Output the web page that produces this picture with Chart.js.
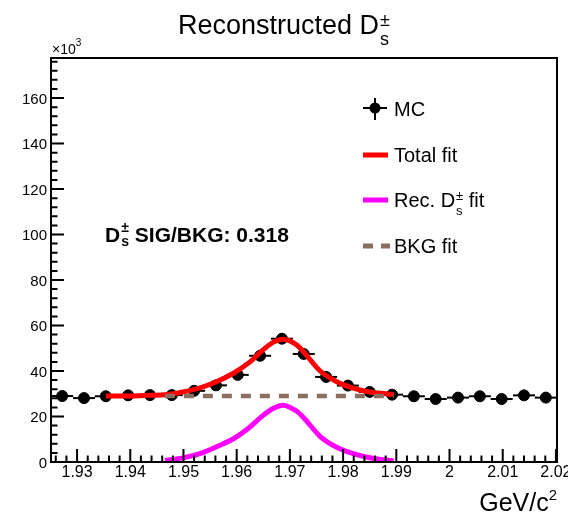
<!DOCTYPE html>
<html>
<head>
<meta charset="utf-8">
<script src="https://cdn.jsdelivr.net/npm/chart.js@4.4.1/dist/chart.umd.min.js"></script>
<style>
    html, body { margin: 0; padding: 0; background: #ffffff; }
    canvas { display: block; }
</style>
</head>
<body>
<canvas id="chart" width="568" height="519"></canvas>
<script>
// invariant mass, GeV/c^2 ; counts in units of 10^3
var massBins = [1.9272, 1.9313, 1.9354, 1.9396, 1.9437, 1.9478, 1.9520, 1.9561,
    1.9602, 1.9644, 1.9685, 1.9726, 1.9768, 1.9809, 1.9850, 1.9892, 1.9933,
    1.9974, 2.0016, 2.0057, 2.0098, 2.0140, 2.0181];
var mcCounts = [29.0, 28.1, 28.9, 29.3, 29.4, 29.4, 31.3, 33.7, 38.3, 46.7, 54.2,
    47.5, 37.4, 33.6, 30.8, 29.6, 28.9, 27.7, 28.3, 28.9, 27.7, 29.3, 28.3];
var binHalfWidth = 0.00207;

var totalFitMass = [1.9354, 1.9399, 1.9439, 1.9478, 1.9499, 1.9531, 1.9563, 1.9593,
    1.9625, 1.9649, 1.9669, 1.9687, 1.9713, 1.9725, 1.9757, 1.9788, 1.9819, 1.9850, 1.9895];
var totalFitValues = [29.0, 29.0, 29.3, 29.9, 30.8, 32.6, 35.4, 38.9,
    44.0, 49.2, 52.7, 54.0, 51.4, 48.6, 40.0, 35.3, 32.5, 30.8, 29.7];

var signalFitMass = [1.9465, 1.9499, 1.9531, 1.9563, 1.9593, 1.9625, 1.9649, 1.9669,
    1.9687, 1.9713, 1.9725, 1.9757, 1.9788, 1.9819, 1.9850, 1.9895];
var signalFitValues = [0.7, 1.8, 3.7, 6.8, 10.1, 15.4, 20.4, 23.6,
    25.0, 22.3, 19.7, 11.2, 6.5, 3.7, 1.9, 0.4];

var bkgFitMass = [1.9465, 1.9895];
var bkgFitValues = [29.0, 29.0];

var xTicks = [1.93, 1.94, 1.95, 1.96, 1.97, 1.98, 1.99, 2.00, 2.01, 2.02];
var yTicks = [0, 20, 40, 60, 80, 100, 120, 140, 160];
var sigOverBkg = "0.318";

var FONT = "'Liberation Sans', Arial, Helvetica, sans-serif";

function points(xs, ys) {
    return xs.map(function (x, i) { return { x: x, y: ys[i] }; });
}

// D with stacked ± (sup) and s (sub), returns x after it
function drawDs(ctx, x, y, size, weight, supOff, subOff) {
    ctx.textAlign = 'left';
    ctx.font = weight + ' ' + size + 'px ' + FONT;
    ctx.fillText('D', x, y);
    x += ctx.measureText('D').width + 1;
    var small = Math.round(size * 0.65);
    ctx.font = weight + ' ' + small + 'px ' + FONT;
    ctx.fillText('\u00b1', x, y + size * supOff);
    ctx.fillText('s', x, y + size * subOff);
    var w = Math.max(ctx.measureText('\u00b1').width, ctx.measureText('s').width);
    ctx.font = weight + ' ' + size + 'px ' + FONT;
    return x + w;
}

var rootStyle = {
    id: 'rootStyle',
    beforeDatasetsDraw: function (chart) {
        // horizontal bin-width error bars of the MC histogram
        var ctx = chart.ctx, sx = chart.scales.x, sy = chart.scales.y;
        ctx.save();
        ctx.strokeStyle = '#000000';
        ctx.lineWidth = 2;
        massBins.forEach(function (m, i) {
            var py = sy.getPixelForValue(mcCounts[i]);
            ctx.beginPath();
            ctx.moveTo(sx.getPixelForValue(m - binHalfWidth), py);
            ctx.lineTo(sx.getPixelForValue(m + binHalfWidth), py);
            ctx.stroke();
        });
        ctx.restore();
    },
    afterDraw: function (chart) {
        var ctx = chart.ctx, a = chart.chartArea;
        var sx = chart.scales.x, sy = chart.scales.y;
        ctx.save();
        ctx.strokeStyle = '#000000';
        ctx.fillStyle = '#000000';
        ctx.lineWidth = 2;
        ctx.strokeRect(a.left, a.top, a.right - a.left, a.bottom - a.top);

        // x ticks (inside)
        ctx.beginPath();
        for (var k = 963; k <= 1010; k++) {
            var v = k / 500;
            var px = sx.getPixelForValue(v);
            var len = (k % 5 === 0) ? 13 : 6.5;
            ctx.moveTo(px, a.bottom);
            ctx.lineTo(px, a.bottom - len);
        }
        // y ticks (inside)
        for (var j = 0; j * 4 <= sy.max; j++) {
            var py = sy.getPixelForValue(j * 4);
            var ylen = (j % 5 === 0) ? 13 : 6.5;
            ctx.moveTo(a.left, py);
            ctx.lineTo(a.left + ylen, py);
        }
        ctx.stroke();

        // tick labels
        ctx.font = '16px ' + FONT;
        ctx.textAlign = 'center';
        ctx.textBaseline = 'alphabetic';
        xTicks.forEach(function (t) {
            ctx.fillText(String(+t.toFixed(2)), sx.getPixelForValue(t), a.bottom + 15);
        });
        ctx.font = '15px ' + FONT;
        ctx.textAlign = 'right';
        yTicks.forEach(function (t) {
            ctx.fillText(String(t), a.left - 4, sy.getPixelForValue(t) + 5.5);
        });

        // x10^3
        ctx.textAlign = 'left';
        ctx.font = '14px ' + FONT;
        ctx.fillText('\u00d710', a.left + 1, a.top - 4);
        var w10 = ctx.measureText('\u00d710').width;
        ctx.font = '10px ' + FONT;
        ctx.fillText('3', a.left + 1 + w10, a.top - 12);

        // axis title
        ctx.font = '15px ' + FONT;
        var w2 = ctx.measureText('2').width;
        ctx.fillText('2', a.right - w2, 500);
        ctx.font = '25px ' + FONT;
        ctx.textAlign = 'right';
        ctx.fillText('GeV/c', a.right - w2, 511);

        // title
        ctx.textAlign = 'left';
        ctx.font = '27px ' + FONT;
        ctx.fillText('Reconstructed ', 178, 34);
        var tx = 178 + ctx.measureText('Reconstructed ').width;
        drawDs(ctx, tx, 34, 27, 'normal', -0.3, 0.42);

        // signal / background annotation
        var ax = drawDs(ctx, 105, 242, 21, 'bold', -0.5, 0.2);
        ctx.font = 'bold 21px ' + FONT;
        ctx.fillText(' SIG/BKG: ' + sigOverBkg, ax, 242);

        // legend
        var lx = 363, lw = 25, tx0 = 394;
        ctx.lineWidth = 2;
        ctx.beginPath();
        ctx.moveTo(lx, 108); ctx.lineTo(lx + 24, 108);
        ctx.moveTo(lx + 12, 98); ctx.lineTo(lx + 12, 120);
        ctx.stroke();
        ctx.beginPath();
        ctx.arc(lx + 12, 108, 5.5, 0, Math.PI * 2);
        ctx.fill();

        ctx.lineWidth = 5;
        ctx.strokeStyle = '#ff0000';
        ctx.beginPath(); ctx.moveTo(lx, 155); ctx.lineTo(lx + lw, 155); ctx.stroke();
        ctx.strokeStyle = '#ff00ff';
        ctx.beginPath(); ctx.moveTo(lx, 200); ctx.lineTo(lx + lw, 200); ctx.stroke();
        ctx.strokeStyle = 'rgb(140,110,96)';
        ctx.setLineDash([10, 8]);
        ctx.beginPath(); ctx.moveTo(lx, 246); ctx.lineTo(lx + lw + 2, 246); ctx.stroke();
        ctx.setLineDash([]);

        ctx.fillStyle = '#000000';
        ctx.font = '20px ' + FONT;
        ctx.fillText('MC', tx0, 116);
        ctx.fillText('Total fit', tx0, 162);
        var rx = tx0 + ctx.measureText('Rec. ').width;
        ctx.fillText('Rec. ', tx0, 207);
        rx = drawDs(ctx, rx, 207, 20, 'normal', -0.37, 0.38);
        ctx.fillText(' fit', rx, 207);
        ctx.fillText('BKG fit', tx0, 253);
        ctx.restore();
    }
};

new Chart(document.getElementById('chart'), {
    type: 'scatter',
    data: {
        datasets: [
            {
                label: 'BKG fit',
                data: points(bkgFitMass, bkgFitValues),
                showLine: true,
                borderColor: 'rgb(140,110,96)',
                borderWidth: 4.5,
                borderDash: [10, 9],
                pointRadius: 0,
                order: 0
            },
            {
                label: 'Rec. Ds fit',
                data: points(signalFitMass, signalFitValues),
                showLine: true,
                borderColor: '#ff00ff',
                borderWidth: 5,
                cubicInterpolationMode: 'monotone',
                pointRadius: 0,
                order: 1
            },
            {
                label: 'Total fit',
                data: points(totalFitMass, totalFitValues),
                showLine: true,
                borderColor: '#ff0000',
                borderWidth: 5,
                cubicInterpolationMode: 'monotone',
                pointRadius: 0,
                order: 2
            },
            {
                label: 'MC',
                data: points(massBins, mcCounts),
                showLine: false,
                pointRadius: 5.5,
                pointBackgroundColor: '#000000',
                pointBorderColor: '#000000',
                order: 3
            }
        ]
    },
    options: {
        responsive: false,
        animation: false,
        devicePixelRatio: 1,
        layout: { padding: { left: 51, top: 58, right: 11, bottom: 57 } },
        plugins: {
            legend: { display: false },
            title: { display: false },
            tooltip: { enabled: false }
        },
        scales: {
            x: { type: 'linear', min: 1.9251, max: 2.0202, display: false },
            y: { type: 'linear', min: 0, max: 177.6, display: false }
        }
    },
    plugins: [rootStyle]
});
</script>
</body>
</html>
